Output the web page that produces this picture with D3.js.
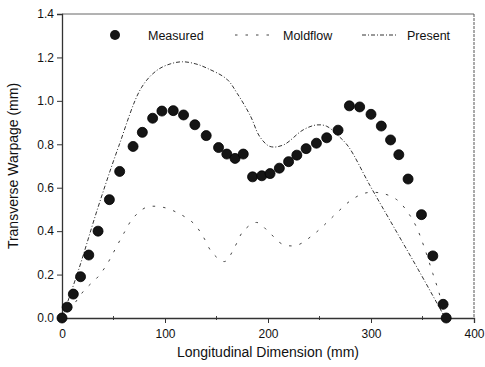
<!DOCTYPE html>
<html>
<head>
<meta charset="utf-8">
<script src="https://cdn.jsdelivr.net/npm/d3@7"></script>
<style>
  body { margin: 0; background: #fff; }
  text { font-family: "Liberation Sans", Arial, sans-serif; fill: #111; }
</style>
</head>
<body>
<div id="view"></div>
<script>
// measured points
const measuredX = [0, 5, 11, 18, 26, 35, 46, 56, 69, 78, 88, 97, 108, 118, 129, 140, 152, 160, 168, 176,
  185, 194, 202, 211, 220, 228, 237, 247, 257, 268, 279, 289, 300, 310, 319, 327, 336, 349, 360, 370, 373];
const measuredY = [0, 0.05, 0.11, 0.19, 0.29, 0.40, 0.545, 0.675, 0.79, 0.855, 0.92, 0.953, 0.955, 0.935, 0.89, 0.84, 0.785, 0.755, 0.735, 0.755,
  0.65, 0.655, 0.665, 0.69, 0.72, 0.75, 0.78, 0.805, 0.83, 0.865, 0.977, 0.972, 0.938, 0.884, 0.82, 0.752, 0.64, 0.476, 0.286, 0.063, 0];

// Moldflow (lower curve)
const moldflowX = [0, 11, 22, 35, 44, 52, 60, 69, 82, 98, 114, 128, 137, 146, 158, 168, 176, 189, 201, 214,
  228, 243, 255, 267, 280, 294, 310, 325, 336, 344, 351, 360, 367, 371];
const moldflowY = [0, 0.06, 0.13, 0.19, 0.25, 0.32, 0.39, 0.46, 0.51, 0.51, 0.48, 0.435, 0.375, 0.30, 0.26, 0.33, 0.40, 0.44, 0.395, 0.34,
  0.335, 0.38, 0.43, 0.485, 0.54, 0.575, 0.575, 0.545, 0.485, 0.42, 0.335, 0.205, 0.10, 0];

// Present (upper curve)
const presentX = [0, 16, 35, 55, 77, 92, 105, 117, 130, 141, 160, 170, 183, 192, 202, 215, 234, 247, 257, 268, 278, 299, 322, 348, 372];
const presentY = [0, 0.22, 0.51, 0.79, 1.06, 1.14, 1.17, 1.18, 1.17, 1.15, 1.10, 1.035, 0.93, 0.835, 0.79, 0.797, 0.866, 0.889, 0.883, 0.84, 0.79, 0.61, 0.42, 0.205, 0];

const xTicks = [0, 100, 200, 300, 400];
const yTicks = [0, 0.2, 0.4, 0.6, 0.8, 1.0, 1.2, 1.4];

const w = 485;
const h = 367;
const margin = {top: 14, right: 11, bottom: 49, left: 62};
const width = w - margin.left - margin.right;
const height = h - margin.top - margin.bottom;

const svg = d3.select('#view').append('svg').attr('width', w).attr('height', h);
const g = svg.append('g').attr('transform', `translate(${margin.left}, ${margin.top})`);

const x = d3.scaleLinear().domain([0, 400]).range([0, width]);
const y = d3.scaleLinear().domain([0, 1.4]).range([height, 0]);

// frame: top solid, right dashed
g.append('line').attr('x1', 0).attr('x2', width).attr('y1', 0).attr('y2', 0)
  .attr('stroke', '#666').attr('stroke-width', 1);
g.append('line').attr('x1', width).attr('x2', width).attr('y1', 0).attr('y2', height)
  .attr('stroke', '#555').attr('stroke-width', 1).attr('stroke-dasharray', '3,1');

// minor ticks on x axis
g.append('g').selectAll('line').data(d3.range(50, 400, 100)).enter().append('line')
  .attr('x1', d => x(d)).attr('x2', d => x(d))
  .attr('y1', height - 2).attr('y2', height + 2)
  .attr('stroke', '#444');

const xAxis = g.append('g')
  .attr('transform', `translate(0, ${height})`)
  .call(d3.axisBottom(x).tickValues(xTicks).tickSize(5).tickPadding(6).tickFormat(d3.format('d')));
const yAxis = g.append('g')
  .call(d3.axisLeft(y).tickValues(yTicks).tickSize(5).tickPadding(3).tickFormat(d3.format('.1f')));

[xAxis, yAxis].forEach(a => {
  a.select('.domain').attr('stroke', '#333').attr('stroke-width', 1.3);
  a.selectAll('.tick line').attr('stroke', '#333');
  a.selectAll('.tick text').attr('font-size', 12).attr('fill', '#111')
    .attr('font-family', '"Liberation Sans", Arial, sans-serif');
});

const line = d3.line().curve(d3.curveCatmullRom.alpha(0.5))
  .x(d => x(d[0])).y(d => y(d[1]));

g.append('path')
  .datum(d3.zip(presentX, presentY))
  .attr('d', line)
  .attr('fill', 'none')
  .attr('stroke', '#333')
  .attr('stroke-width', 1)
  .attr('stroke-dasharray', '4,2,1,2');

g.append('path')
  .datum(d3.zip(moldflowX, moldflowY))
  .attr('d', line)
  .attr('fill', 'none')
  .attr('stroke', '#444')
  .attr('stroke-width', 1)
  .attr('stroke-dasharray', '2.5,8');

g.append('g').selectAll('circle')
  .data(d3.zip(measuredX, measuredY))
  .enter().append('circle')
  .attr('cx', d => x(d[0]))
  .attr('cy', d => y(d[1]))
  .attr('r', 5)
  .attr('fill', '#151515')
  .attr('stroke', '#000')
  .attr('stroke-width', 0.8);

// legend
const legend = g.append('g');
legend.append('circle').attr('cx', 53).attr('cy', 21).attr('r', 5).attr('fill', '#151515');
legend.append('text').attr('x', 86).attr('y', 25.5).attr('font-size', 12.5).text('Measured');
legend.append('line').attr('x1', 173).attr('x2', 209).attr('y1', 21).attr('y2', 21)
  .attr('stroke', '#444').attr('stroke-dasharray', '2.5,8');
legend.append('text').attr('x', 221).attr('y', 25.5).attr('font-size', 12.5).text('Moldflow');
legend.append('line').attr('x1', 300).attr('x2', 335).attr('y1', 21).attr('y2', 21)
  .attr('stroke', '#333').attr('stroke-dasharray', '4,2,1,2');
legend.append('text').attr('x', 345).attr('y', 25.5).attr('font-size', 12.5).text('Present');

// axis titles
g.append('text')
  .attr('x', width / 2)
  .attr('y', height + 39)
  .attr('text-anchor', 'middle')
  .attr('font-size', 14)
  .text('Longitudinal Dimension (mm)');

g.append('text')
  .attr('transform', `translate(${-44}, ${height / 2}) rotate(-90)`)
  .attr('text-anchor', 'middle')
  .attr('font-size', 14)
  .text('Transverse Warpage (mm)');
</script>
</body>
</html>
